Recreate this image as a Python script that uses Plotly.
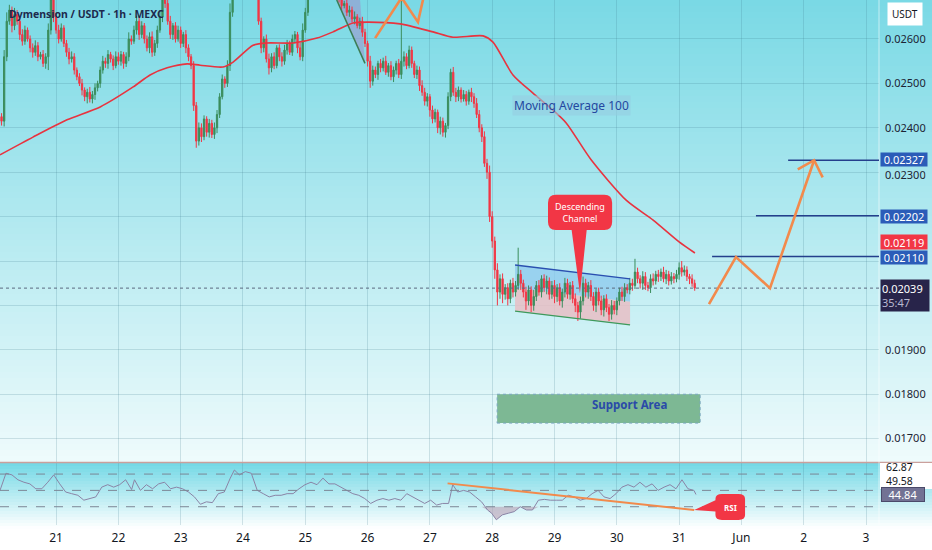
import plotly.graph_objects as go

# ---------------- data (prices in 1e-5 USDT) ----------------
SCALE = 1e-5
hours = list(range(2, 271))          # hourly candles, hour 0 = May 20 00:00
first_open_e5 = 2410
close_e5 = [
    2425, 2415, 2560, 2640, 2665, 2630, 2655, 2640, 2610, 2595,
    2620, 2600, 2580, 2570, 2585, 2560, 2565, 2545, 2560, 2620,
    2690, 2650, 2620, 2600, 2625, 2590, 2570, 2555, 2560, 2530,
    2515, 2500, 2485, 2470, 2480, 2465, 2475, 2490, 2500, 2530,
    2550, 2545, 2565, 2555, 2540, 2560, 2550, 2565, 2545, 2560,
    2600, 2595, 2620, 2640, 2610, 2630, 2600, 2580, 2605, 2570,
    2590, 2620, 2650, 2700, 2680, 2640, 2610, 2630, 2600, 2620,
    2590, 2610, 2580, 2560, 2540, 2450, 2370, 2400, 2380, 2420,
    2390, 2410, 2385, 2400, 2430, 2470, 2510, 2500, 2540, 2660,
    2720, 2740, 2710, 2730, 2750, 2720, 2740, 2710, 2730, 2700,
    2640, 2580, 2600, 2555, 2535, 2560, 2540, 2580, 2560, 2550,
    2575, 2590, 2570, 2600, 2610, 2580, 2560, 2620, 2660, 2700,
    2730, 2720, 2745, 2760, 2740, 2755, 2730, 2745, 2720, 2735,
    2700, 2690, 2675, 2680, 2660, 2665, 2645, 2650, 2630, 2640,
    2615, 2590, 2550, 2505, 2530, 2520, 2545, 2535, 2550, 2525,
    2540, 2515, 2530, 2545, 2520, 2550, 2560, 2540, 2575, 2545,
    2520, 2530, 2495, 2480, 2460, 2470, 2440, 2420, 2435, 2400,
    2415, 2390, 2405, 2470, 2525, 2480, 2470, 2485, 2465, 2475,
    2460, 2480, 2470, 2455, 2430, 2400, 2380, 2320, 2300, 2200,
    2145, 2080, 2030, 2060, 2025, 2040, 2015, 2050, 2030, 2045,
    2070, 2050, 2030, 2010, 2035, 2000, 2020, 2045, 2030, 2060,
    2040, 2055, 2025, 2045, 2020, 2040, 2010, 2030, 2050, 2025,
    2045, 2015, 2000, 1985, 2010, 2050, 2030, 2045, 2020, 2000,
    2030, 2010, 1990, 2015, 1995, 1980, 2000, 1990, 2010, 2030,
    2020, 2040, 2035, 2050, 2045, 2075, 2060, 2050, 2065, 2045,
    2040, 2060, 2055, 2070, 2065, 2075, 2060, 2070, 2055, 2065,
    2060, 2070, 2085, 2075, 2080, 2065, 2060, 2050, 2039,
]
wick_up_e5 = [
    10, 8, 15, 20, 12, 8, 15, 10, 8, 12, 10, 6, 8, 10, 12, 8, 6, 10, 8, 15,
    20, 10, 8, 12, 10, 6, 8, 10, 12, 8, 6, 8, 10, 6, 8, 12, 8, 10, 6, 8,
    12, 8, 10, 6, 8, 12, 10, 8, 6, 10, 15, 8, 10, 12, 8, 10, 6, 8, 10, 12,
    8, 10, 15, 20, 10, 8, 12, 6, 8, 10, 8, 6, 10, 8, 6, 10, 8, 12, 10, 8,
    6, 10, 8, 12, 10, 8, 10, 6, 12, 20, 15, 10, 8, 12, 10, 8, 6, 10, 8, 12,
    10, 8, 6, 10, 12, 8, 10, 6, 8, 10, 12, 8, 6, 10, 8, 6, 12, 15, 10, 8,
    10, 8, 12, 6, 10, 8, 12, 10, 8, 6, 10, 8, 12, 6, 8, 10, 8, 12, 6, 8,
    10, 8, 6, 12, 10, 8, 6, 10, 8, 12, 6, 10, 8, 6, 10, 150, 12, 8, 10, 8,
    6, 10, 8, 12, 10, 8, 6, 10, 8, 6, 10, 8, 6, 10, 8, 12, 10, 8, 6, 10,
    8, 6, 10, 8, 12, 10, 8, 12, 10, 15, 12, 10, 15, 10, 12, 8, 10, 8, 12, 10,
    60, 10, 8, 12, 10, 8, 15, 10, 12, 8, 10, 12, 8, 10, 12, 8, 10, 8, 12, 10,
    8, 10, 12, 8, 10, 15, 10, 8, 12, 10, 8, 10, 12, 8, 10, 8, 12, 10, 8, 10,
    12, 10, 8, 12, 10, 30, 10, 8, 12, 10, 8, 10, 12, 8, 10, 8, 12, 10, 8, 10,
    8, 10, 12, 15, 10, 8, 6, 10, 8,
]
wick_dn_e5 = [
    8, 10, 12, 10, 8, 15, 10, 8, 12, 10, 8, 6, 10, 12, 8, 10, 6, 8, 12, 30,
    10, 12, 8, 10, 6, 8, 10, 12, 8, 10, 8, 6, 12, 10, 15, 8, 10, 12, 8, 10,
    8, 10, 12, 8, 10, 6, 8, 10, 12, 8, 10, 8, 6, 10, 12, 8, 10, 8, 12, 10,
    8, 10, 6, 12, 10, 8, 10, 12, 8, 6, 10, 8, 12, 10, 8, 12, 15, 10, 12, 8,
    10, 12, 8, 10, 12, 8, 6, 10, 8, 12, 10, 8, 6, 10, 8, 12, 10, 8, 6, 10,
    8, 12, 10, 8, 15, 10, 8, 6, 10, 12, 8, 10, 6, 8, 10, 12, 8, 10, 6, 8,
    10, 8, 12, 6, 10, 8, 12, 10, 8, 6, 10, 8, 12, 6, 8, 10, 8, 12, 6, 8,
    10, 8, 12, 15, 10, 8, 12, 10, 8, 6, 10, 8, 12, 10, 8, 10, 12, 8, 6, 10,
    8, 10, 12, 8, 10, 12, 15, 10, 8, 12, 15, 10, 12, 8, 10, 8, 12, 10, 8, 6,
    10, 8, 12, 10, 8, 10, 12, 8, 15, 12, 15, 20, 30, 15, 20, 12, 15, 10, 12, 10,
    10, 15, 12, 20, 10, 15, 12, 10, 8, 12, 10, 15, 12, 10, 15, 12, 10, 15, 12, 10,
    12, 10, 15, 20, 15, 10, 12, 15, 10, 12, 15, 10, 12, 15, 10, 15, 12, 10, 12, 10,
    10, 12, 8, 10, 12, 8, 10, 12, 15, 10, 8, 12, 10, 8, 12, 10, 8, 12, 10, 8,
    10, 8, 12, 10, 8, 10, 12, 8, 6,
]

ma_hours = [2.4, 15.1, 28.2, 41, 53.7, 60.2, 66.8, 74.5, 79.5, 88.3, 92.2, 99.9,
            105.3, 115.3, 124.5, 130.7, 138.4, 143.8, 156.5, 169.2, 176.9, 188.5,
            192.3, 200, 207.7, 215.4, 220.5, 230.1, 243.6, 254, 264, 270.1]
ma_e5 = [2339, 2379, 2418, 2447, 2492, 2519, 2535, 2544, 2541, 2537, 2548, 2586,
         2591, 2591, 2602, 2616, 2636, 2638, 2634, 2616, 2604, 2607, 2593, 2519,
         2478, 2440, 2411, 2328, 2237, 2192, 2143, 2118]

rsi_hours = [2.4, 4.7, 7.0, 9.3, 11.6, 13.9, 16.2, 18.5, 20.8, 23.1,
             25.4, 27.7, 30.0, 32.4, 34.7, 37.0, 39.3, 41.6, 43.9, 46.2,
             48.5, 50.8, 53.1, 54.2, 56.5, 58.8, 61.2, 63.5, 65.8, 68.1,
             70.4, 72.7, 75.0, 77.3, 79.6, 81.9, 84.2, 86.5, 88.8, 91.1,
             92.7, 94.6, 96.9, 99.2, 101.5, 103.8, 106.1, 108.4, 110.7, 113.0,
             115.3, 117.6, 119.9, 122.2, 124.5, 126.8, 129.1, 131.4, 133.7, 136.0,
             138.3, 140.6, 142.9, 145.2, 147.6, 149.9, 152.2, 154.5, 156.8, 159.1,
             161.4, 163.7, 166.0, 168.3, 170.6, 172.9, 175.2, 176.8, 178.7, 181.0,
             183.3, 185.6, 187.9, 190.2, 191.8, 193.6, 195.9, 198.2, 200.5, 202.8,
             205.2, 207.5, 209.8, 212.1, 214.4, 216.7, 219.0, 221.3, 223.6, 225.9,
             228.2, 230.5, 232.8, 235.1, 237.4, 239.7, 242.0, 244.3, 246.6, 248.9,
             251.2, 253.6, 255.9, 258.2, 260.5, 262.8, 265.1, 267.4, 269.7, 270.5]
rsi_vals = [50, 71, 69, 63, 60, 58, 52, 52, 60, 69,
            58, 48, 46, 44, 38, 40, 42, 54, 57, 54,
            57, 63, 51, 63, 50, 57, 52, 58, 60, 52,
            54, 52, 48, 42, 33, 36, 35, 46, 48, 65,
            75, 69, 73, 71, 50, 46, 42, 44, 44, 46,
            46, 52, 57, 60, 57, 65, 58, 58, 54, 50,
            46, 44, 40, 34, 38, 40, 38, 40, 38, 46,
            42, 38, 34, 38, 32, 34, 34, 57, 48, 50,
            48, 42, 36, 26, 22, 14, 20, 22, 24, 30,
            26, 26, 38, 39, 38, 38, 38, 44, 42, 38,
            40, 46, 50, 42, 40, 46, 54, 57, 54, 60,
            54, 58, 50, 54, 57, 52, 63, 52, 50, 45]

day_ticks = [24, 48, 72, 96, 120, 144, 168, 192, 216, 240, 264, 288, 312, 336]
day_labels = ["21", "22", "23", "24", "25", "26", "27", "28", "29", "30", "31", "Jun", "2", "3"]
price_ticks = [0.017, 0.018, 0.019, 0.020, 0.021, 0.022, 0.023, 0.024, 0.025, 0.026]
# 0.02000 / 0.02100 / 0.02200 sit behind the price-scale label boxes in the reference;
# 0.02300 is drawn just below the 0.02327 box (see annotations)
price_labels = ["0.01700", "0.01800", "0.01900", "", "",
                "", "", "0.02400", "0.02500", "0.02600"]
squeezed_tick_label = "0.02300"

target_levels = [0.02327, 0.02202, 0.02110]
target_labels = ["0.02327", "0.02202", "0.02110"]
target_label_px = [159.5, 216, 257]
target_from_hours = [306.0, 293.6, 276.7]
current_price = 0.02039
current_label = "0.02039"
countdown = "35:47"
ma_label = "0.02119"
rsi_levels = [70, 50, 30]
rsi_side_labels = ["62.87", "49.58", "44.84"]

channel_hours = [200.8, 245.1]
channel_top = [0.02091, 0.02060]
channel_mid = [0.02039, 0.02008]
channel_bot = [0.01987, 0.01956]
support_hours = [193.9, 272.1]
support_band = [0.01735, 0.01800]
projection_hours = [275.5, 285.9, 299.0, 316.0]
projection_prices = [0.02003, 0.02109, 0.02039, 0.02327]
arrow_hours = [309.7, 316.0, 319.3]
arrow_prices = [0.023066, 0.02327, 0.022885]
zigzag_hours = [146.9, 157.1, 163.4, 166.1]
zigzag_prices = [0.02602, 0.02693, 0.02638, 0.02708]
wedge_hours = [132.1, 141.1, 143.0]
wedge_prices = [0.02688, 0.02688, 0.02545]
rsi_trend_hours = [174.8, 269.8]
rsi_trend_vals = [58.6, 26.0]

# ---------------- layout geometry ----------------
W, H = 932, 550
MR, MB = 53, 25
PW, PH = W - MR, H - MB
X_RANGE = [2.4, 341.0]
Y_RANGE = [0.016474, 0.026878]
RSI_RANGE = [7.6, 83.5]
FONT = "Noto Sans"
DARK = "#131722"


def pxx(px):
    return px / PW


def pxy(py):
    return (PH - py) / PH


def mix(c0, c1, t):
    t = max(0.0, min(1.0, t))
    return "rgb(%d,%d,%d)" % tuple(round(a + (b - a) * t) for a, b in zip(c0, c1))


# OHLC
opens = [first_open_e5] + close_e5[:-1]
o = [v * SCALE for v in opens]
c = [v * SCALE for v in close_e5]
hi = [(max(a, b) + u) * SCALE for a, b, u in zip(opens, close_e5, wick_up_e5)]
lo = [(min(a, b) - d) * SCALE for a, b, d in zip(opens, close_e5, wick_dn_e5)]

fig = go.Figure()

fig.add_trace(go.Candlestick(
    x=hours, open=o, high=hi, low=lo, close=c,
    increasing=dict(line=dict(color="#3b8d5c", width=1), fillcolor="#3b8d5c"),
    decreasing=dict(line=dict(color="#f23645", width=1), fillcolor="#f23645"),
    whiskerwidth=0, xaxis="x", yaxis="y", hoverinfo="skip", showlegend=False))

fig.add_trace(go.Scatter(
    x=ma_hours, y=[v * SCALE for v in ma_e5], mode="lines",
    line=dict(color="#e8333f", width=1.6, shape="spline", smoothing=0.7),
    xaxis="x", yaxis="y", hoverinfo="skip", showlegend=False))

# RSI oversold fill
seg = [i for i, v in enumerate(rsi_vals) if v < 30]
i0, i1 = seg[0] - 1, seg[-1] + 1
fx = rsi_hours[i0:i1 + 1]
fig.add_trace(go.Scatter(x=fx, y=[30] * len(fx), mode="lines", line=dict(width=0),
                         xaxis="x2", yaxis="y2", hoverinfo="skip", showlegend=False))
fig.add_trace(go.Scatter(x=fx, y=[min(v, 30) for v in rsi_vals[i0:i1 + 1]], mode="lines",
                         line=dict(width=0), fill="tonexty", fillcolor="rgba(185,160,180,0.6)",
                         xaxis="x2", yaxis="y2", hoverinfo="skip", showlegend=False))
fig.add_trace(go.Scatter(
    x=rsi_hours, y=rsi_vals, mode="lines", line=dict(color="#8a84a6", width=1),
    xaxis="x2", yaxis="y2", hoverinfo="skip", showlegend=False))

shapes = []
# background gradient bands
top_c, bot_c = (122, 217, 229), (240, 251, 252)
for py in range(0, 463, 6):
    shapes.append(dict(type="rect", xref="paper", yref="paper", x0=0, x1=pxx(W),
                       y0=pxy(min(py + 6, 462.5)), y1=pxy(py), layer="below",
                       line=dict(width=0), fillcolor=mix(top_c, bot_c, py / 462)))
for py in range(463, 532, 3):
    shapes.append(dict(type="rect", xref="paper", yref="paper", x0=0, x1=pxx(W),
                       y0=pxy(py + 3), y1=pxy(py), layer="below",
                       line=dict(width=0), fillcolor=mix((118, 217, 230), (255, 255, 255), (py - 463) / 64)))
# pane separator
shapes.append(dict(type="line", xref="paper", yref="paper", x0=0, x1=pxx(W), y0=pxy(462.5), y1=pxy(462.5),
                   line=dict(color="#caa09c", width=1.5)))
# price-scale edge
shapes.append(dict(type="line", xref="paper", yref="paper", x0=1, x1=1, y0=0, y1=1,
                   line=dict(color="rgba(255,255,255,0.55)", width=1)))

# RSI levels
for lv in rsi_levels:
    shapes.append(dict(type="line", xref="paper", yref="y2", x0=0, x1=1, y0=lv, y1=lv,
                       line=dict(color="#7d8796", width=1, dash="dash")))

# wedge (top)
shapes.append(dict(type="path", xref="x", yref="y", layer="between",
                   path="M%s,%s L%s,%s L%s,%s Z" % (wedge_hours[0], wedge_prices[0], wedge_hours[1],
                                                     wedge_prices[1], wedge_hours[2], wedge_prices[2]),
                   fillcolor="rgba(155,150,205,0.6)", line=dict(width=0)))
shapes.append(dict(type="line", xref="x", yref="y", x0=wedge_hours[0], y0=wedge_prices[0],
                   x1=wedge_hours[2], y1=wedge_prices[2], line=dict(color="#3d7d55", width=1.5)))


def poly(xs, ys):
    return "M" + " L".join("%s,%s" % (a, b) for a, b in zip(xs, ys)) + " Z"


ch0, ch1 = channel_hours
shapes.append(dict(type="path", xref="x", yref="y", layer="between",
                   path=poly([ch0, ch1, ch1, ch0], [channel_top[0], channel_top[1], channel_mid[1], channel_mid[0]]),
                   fillcolor="rgba(140,200,238,0.75)", line=dict(width=0)))
shapes.append(dict(type="path", xref="x", yref="y", layer="between",
                   path=poly([ch0, ch1, ch1, ch0], [channel_mid[0], channel_mid[1], channel_bot[1], channel_bot[0]]),
                   fillcolor="rgba(232,190,196,0.85)", line=dict(width=0)))
shapes.append(dict(type="line", xref="x", yref="y", x0=ch0, x1=ch1, y0=channel_top[0], y1=channel_top[1],
                   line=dict(color="#2a4fb0", width=1.3)))
shapes.append(dict(type="line", xref="x", yref="y", x0=ch0, x1=ch1, y0=channel_bot[0], y1=channel_bot[1],
                   line=dict(color="#3d9a5c", width=1.3)))

# support area
shapes.append(dict(type="rect", xref="x", yref="y", layer="between",
                   x0=support_hours[0], x1=support_hours[1], y0=support_band[0], y1=support_band[1],
                   fillcolor="#7db894", line=dict(color="#7aa6c0", width=1, dash="dot")))

# current price dotted line
shapes.append(dict(type="line", xref="paper", yref="y", x0=0, x1=1, y0=current_price, y1=current_price,
                   line=dict(color="#5b6b80", width=1, dash="dot")))

# target lines
for lv, h0 in zip(target_levels, target_from_hours):
    shapes.append(dict(type="line", xref="x", yref="y", x0=h0, x1=X_RANGE[1], y0=lv, y1=lv,
                       line=dict(color="#243f8c", width=1.5)))

# orange drawings
ORANGE = "#f28a4c"
shapes.append(dict(type="path", xref="x", yref="y",
                   path="M" + " L".join("%s,%s" % p for p in zip(projection_hours, projection_prices)),
                   line=dict(color=ORANGE, width=2.6)))
shapes.append(dict(type="path", xref="x", yref="y",
                   path="M" + " L".join("%s,%s" % p for p in zip(arrow_hours, arrow_prices)),
                   line=dict(color=ORANGE, width=2.6)))
shapes.append(dict(type="path", xref="x", yref="y",
                   path="M" + " L".join("%s,%s" % p for p in zip(zigzag_hours, zigzag_prices)),
                   line=dict(color=ORANGE, width=2.6)))
shapes.append(dict(type="line", xref="x2", yref="y2", x0=rsi_trend_hours[0], x1=rsi_trend_hours[1],
                   y0=rsi_trend_vals[0], y1=rsi_trend_vals[1], line=dict(color=ORANGE, width=2)))


def callout(x0, x1, y0, y1, rx, ry, tail):
    p = "M%s,%s L%s,%s Q%s,%s %s,%s L%s,%s Q%s,%s %s,%s " % (
        x0 + rx, y1, x1 - rx, y1, x1, y1, x1, y1 - ry, x1, y0 + ry, x1, y0, x1 - rx, y0)
    if tail[0] == "bottom":
        _, xa, xb, tx, ty = tail
        p += "L%s,%s L%s,%s L%s,%s " % (xb, y0, tx, ty, xa, y0)
    p += "L%s,%s Q%s,%s %s,%s " % (x0 + rx, y0, x0, y0, x0, y0 + ry)
    if tail[0] == "left":
        _, ya, yb, tx, ty = tail
        p += "L%s,%s L%s,%s L%s,%s " % (x0, ya, tx, ty, x0, yb)
    p += "L%s,%s Q%s,%s %s,%s Z" % (x0, y1 - ry, x0, y1, x0 + rx, y1)
    return p


RED = "#f23645"
shapes.append(dict(type="path", xref="x", yref="y",
                   path=callout(213.5, 238.2, 0.02170, 0.02249, 3, 0.00018,
                                ("bottom", 222.6, 228.4, 225.8, 0.02027)),
                   fillcolor=RED, line=dict(width=0)))
shapes.append(dict(type="path", xref="x2", yref="y2",
                   path=callout(278.0, 289.4, 13.8, 45.5, 2.5, 6,
                                ("left", 24.0, 38.0, rsi_trend_hours[1], rsi_trend_vals[1])),
                   fillcolor=RED, line=dict(width=0)))

# white label box on RSI scale
shapes.append(dict(type="rect", xref="paper", yref="paper", x0=pxx(880), x1=pxx(W),
                   y0=pxy(489), y1=pxy(463), fillcolor="white", line=dict(width=0)))

ann = []
ann.append(dict(text="<b>Dymension / USDT · 1h · MEXC</b>", xref="paper", yref="paper",
                x=pxx(7), y=pxy(14), xanchor="left", yanchor="middle", showarrow=False,
                font=dict(family=FONT, size=10.5, color="#1d2a4d")))
ann.append(dict(text="USDT", xref="paper", yref="paper", x=pxx(905), y=pxy(14), showarrow=False,
                xanchor="center", yanchor="middle", bgcolor="white", borderpad=4,
                font=dict(family=FONT, size=10, color=DARK)))
ann.append(dict(text="Moving Average 100", xref="x", yref="y", x=222.4, y=0.02451, showarrow=False,
                bgcolor="rgba(150,205,225,0.6)", font=dict(family=FONT, size=12, color="#2448a0")))
ann.append(dict(text="<b>Support Area</b>", xref="x", yref="y", x=244.7, y=0.01778, showarrow=False,
                font=dict(family=FONT, size=11.5, color="#2a4aa8")))
ann.append(dict(text="Descending<br>Channel", xref="x", yref="y", x=225.8, y=0.022095, showarrow=False,
                font=dict(family=FONT, size=9, color="white")))
ann.append(dict(text="<b>RSI</b>", xref="x2", yref="y2", x=283.8, y=29.5, showarrow=False,
                font=dict(family=FONT, size=8, color="white")))

# price-scale labels
LX = pxx(880.5)
ann.append(dict(text=squeezed_tick_label, xref="paper", yref="paper", x=pxx(884), y=pxy(173.5),
                xanchor="left", yanchor="middle", showarrow=False, height=12, borderpad=0,
                font=dict(family=FONT, size=11, color="#1c2434")))
for py, txt in zip(target_label_px, target_labels):
    ann.append(dict(text=txt, xref="paper", yref="paper", x=LX, y=pxy(py), xanchor="left", yanchor="middle",
                    showarrow=False, bgcolor="#2b5cb8", borderpad=0, width=46, height=13,
                    font=dict(family=FONT, size=11, color="white")))
ann.append(dict(text=ma_label, xref="paper", yref="paper", x=LX, y=pxy(242), xanchor="left",
                yanchor="middle", showarrow=False, bgcolor=RED, borderpad=0, width=46, height=14,
                font=dict(family=FONT, size=11, color="white")))
ann.append(dict(text=current_label + "<br><span style='color:#b8b8d0'>" + countdown + "</span>",
                xref="paper", yref="paper", x=LX, y=pxy(295), xanchor="left", yanchor="middle",
                showarrow=False, bgcolor="#28244a", borderpad=1, width=46, align="left",
                font=dict(family=FONT, size=11, color="white")))
ann.append(dict(text=rsi_side_labels[0], xref="paper", yref="paper", x=pxx(885), y=pxy(467),
                xanchor="left", yanchor="middle", showarrow=False, height=12, borderpad=0,
                font=dict(family=FONT, size=10.5, color=DARK)))
ann.append(dict(text=rsi_side_labels[1], xref="paper", yref="paper", x=pxx(885), y=pxy(480.5),
                xanchor="left", yanchor="middle", showarrow=False, height=12, borderpad=0,
                font=dict(family=FONT, size=10.5, color=DARK)))
ann.append(dict(text=rsi_side_labels[2], xref="paper", yref="paper", x=pxx(881), y=pxy(494.5),
                xanchor="left", yanchor="middle", showarrow=False, bgcolor="#727294",
                bordercolor="#4a4a6a", borderwidth=1, borderpad=0, width=42, height=13,
                font=dict(family=FONT, size=11, color="white")))

GRID = "rgba(60,120,140,0.2)"
fig.update_layout(
    width=W, height=H, margin=dict(l=0, r=MR, t=0, b=MB),
    paper_bgcolor="white", plot_bgcolor="rgba(0,0,0,0)", showlegend=False,
    font=dict(family=FONT, color=DARK),
    xaxis=dict(domain=[0, 1], anchor="y", range=X_RANGE, tickvals=day_ticks, ticktext=day_labels,
               showticklabels=False, showgrid=True, gridcolor=GRID, zeroline=False, ticks="",
               rangeslider=dict(visible=False), fixedrange=True),
    yaxis=dict(domain=[0.12, 1], anchor="x", side="right", range=Y_RANGE, tickvals=price_ticks,
               ticktext=price_labels, showgrid=True, gridcolor=GRID, zeroline=False, ticks="",
               ticklabelstandoff=5, tickfont=dict(family=FONT, size=11, color="#1c2434")),
    xaxis2=dict(domain=[0, 1], anchor="y2", matches="x", range=X_RANGE, tickvals=day_ticks,
                ticktext=day_labels, showgrid=True, gridcolor=GRID, zeroline=False, ticks="",
                ticklabelstandoff=4, tickfont=dict(family=FONT, size=12, color=DARK)),
    yaxis2=dict(domain=[0, 0.118], anchor="x2", side="right", range=RSI_RANGE, showgrid=False,
                showticklabels=False, zeroline=False, ticks=""),
    shapes=shapes, annotations=ann,
)

fig.write_html("out.html", config={"displayModeBar": False},
               post_script="document.body.style.margin='0';document.body.style.overflow='hidden';")
